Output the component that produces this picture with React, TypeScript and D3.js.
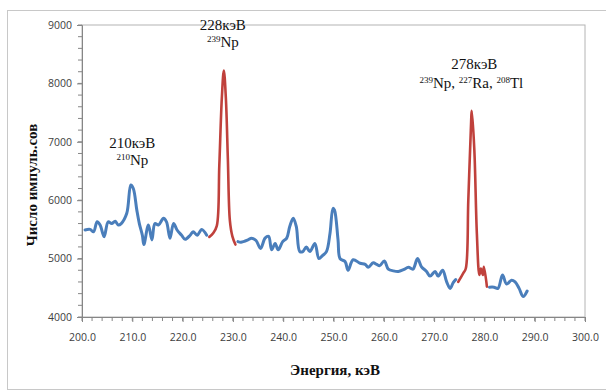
import React, { useRef, useEffect } from "react";
import * as d3 from "d3";

// spectrum segments (energy keV, counts)
const blueA_E = [200.6, 201.6, 202.3, 203.0, 203.6, 204.4, 205.2, 205.9, 206.6, 207.2, 207.8, 208.9, 209.7, 210.2, 210.9, 211.4, 212.0, 212.3, 213.2, 213.9, 214.5, 215.2, 216.2, 216.8, 217.5, 218.2, 218.9, 219.8, 220.5, 221.5, 222.1, 222.9, 223.8, 224.8];
const blueA_C = [5490, 5500, 5460, 5630, 5575, 5375, 5630, 5600, 5640, 5575, 5600, 5775, 6260, 6200, 5830, 5600, 5400, 5240, 5575, 5320, 5600, 5575, 5690, 5630, 5350, 5600, 5490, 5400, 5330, 5400, 5460, 5400, 5500, 5400];

const redA_E = [225.3, 226.1, 226.8, 227.3, 227.8, 228.2, 228.6, 229.0, 229.4, 229.9, 230.5];
const redA_C = [5370, 5440, 5560, 6600, 7750, 8220, 7750, 6700, 5650, 5380, 5240];

const blueB_E = [231.0, 231.6, 233.0, 233.7, 234.6, 235.5, 236.4, 237.1, 237.7, 238.4, 239.0, 239.9, 240.7, 241.3, 242.0, 242.6, 243.3, 243.9, 244.6, 245.3, 246.3, 247.1, 247.8, 248.6, 249.3, 249.9, 250.2, 250.9, 251.3, 252.3, 252.9, 253.9, 255.3, 256.3, 256.9, 257.9, 258.6, 259.2, 260.1, 260.9, 261.9, 262.9, 263.9, 264.9, 265.8, 266.7, 267.5, 268.5, 269.2, 270.2, 270.8, 271.7, 272.5, 273.2, 273.8, 274.3];
const blueB_C = [5290, 5280, 5320, 5350, 5310, 5175, 5350, 5380, 5150, 5260, 5150, 5290, 5350, 5550, 5690, 5550, 5120, 5120, 5200, 5120, 5260, 5000, 5050, 5120, 5430, 5860, 5830, 5320, 5000, 4950, 4800, 4980, 4920, 4900, 4850, 4930, 4900, 4880, 4960, 4820, 4790, 4780, 4810, 4850, 4820, 5000, 4860, 4780, 4700, 4780, 4700, 4800, 4600, 4490, 4590, 4640];

const redB_E = [274.8, 275.8, 276.3, 276.8, 277.3, 277.5, 278.0, 278.5, 279.0, 279.3, 279.7, 279.9, 280.5];
const redB_C = [4600, 4750, 4830, 6000, 7200, 7530, 6860, 5430, 4720, 4830, 4720, 4860, 4520];

const blueC_E = [281.0, 281.9, 282.7, 283.6, 284.4, 285.4, 286.1, 286.9, 287.7, 288.5];
const blueC_C = [4510, 4510, 4490, 4720, 4565, 4630, 4600, 4490, 4350, 4445];

const xTicks = [200, 210, 220, 230, 240, 250, 260, 270, 280, 290, 300];
const yTicks = [4000, 5000, 6000, 7000, 8000, 9000];

const seriesList = [
    { e: blueA_E, c: blueA_C, color: "#4a7ebb", w: 3 },
    { e: redA_E, c: redA_C, color: "#c0413c", w: 2.6 },
    { e: blueB_E, c: blueB_C, color: "#4a7ebb", w: 3 },
    { e: redB_E, c: redB_C, color: "#c0413c", w: 2.6 },
    { e: blueC_E, c: blueC_C, color: "#4a7ebb", w: 3 },
];

const labels = [
    { e: 210, c: 6900, top: "210кэВ", mass: "210", rest: "Np" },
    { e: 228, c: 8920, top: "228кэВ", mass: "239", rest: "Np" },
    { e: 278, c: 8250, top: "278кэВ", mass: "", rest: "" },
];

const W = 606;
const H = 392;
const plot = { left: 82, right: 585, top: 25, bottom: 317 };

const App = () => {
    const ref = useRef(null);

    useEffect(() => {
        const svg = d3.select(ref.current);
        svg.selectAll("*").remove();

        const x = d3.scaleLinear().domain([200, 300]).range([plot.left, plot.right]);
        const y = d3.scaleLinear().domain([4000, 9000]).range([plot.bottom, plot.top]);

        // outer chart frame
        svg.append("rect")
            .attr("x", 7.5).attr("y", 10.5)
            .attr("width", 600).attr("height", 379)
            .attr("fill", "#fff").attr("stroke", "#c8c8c8");

        // plot frame
        svg.append("rect")
            .attr("x", plot.left).attr("y", plot.top)
            .attr("width", plot.right - plot.left).attr("height", plot.bottom - plot.top)
            .attr("fill", "none").attr("stroke", "#b4b4b4");

        const tickFont = "Open Sans, DejaVu Sans, sans-serif";

        // x axis
        const xAxis = svg.append("g")
            .attr("transform", `translate(0, ${plot.bottom})`)
            .call(d3.axisBottom(x).tickValues(xTicks).tickFormat(d3.format(".1f")).tickSize(5).tickPadding(12));
        xAxis.select(".domain").attr("stroke", "#868686");
        xAxis.selectAll(".tick line").attr("stroke", "#868686");
        xAxis.selectAll("text").attr("fill", "#404040").attr("font-size", 10.5).attr("font-family", tickFont);
        svg.append("g")
            .attr("transform", `translate(0, ${plot.bottom})`)
            .selectAll("line")
            .data(d3.range(200, 301, 2))
            .join("line")
            .attr("x1", (d) => x(d)).attr("x2", (d) => x(d))
            .attr("y1", 0).attr("y2", 4)
            .attr("stroke", "#868686");

        // y axis
        const yAxis = svg.append("g")
            .attr("transform", `translate(${plot.left}, 0)`)
            .call(d3.axisLeft(y).tickValues(yTicks).tickFormat(d3.format("d")).tickSize(5).tickPadding(5));
        yAxis.select(".domain").attr("stroke", "#868686");
        yAxis.selectAll(".tick line").attr("stroke", "#868686");
        yAxis.selectAll("text").attr("fill", "#404040").attr("font-size", 10.5).attr("font-family", tickFont);
        svg.append("g")
            .attr("transform", `translate(${plot.left}, 0)`)
            .selectAll("line")
            .data(d3.range(4000, 9001, 200))
            .join("line")
            .attr("x1", -4).attr("x2", 0)
            .attr("y1", (d) => y(d)).attr("y2", (d) => y(d))
            .attr("stroke", "#868686");

        // spectrum lines
        const line = d3.line().x((d) => x(d[0])).y((d) => y(d[1])).curve(d3.curveCatmullRom.alpha(0.5));
        seriesList.forEach((s) => {
            svg.append("path")
                .datum(s.e.map((v, i) => [v, s.c[i]]))
                .attr("d", line)
                .attr("fill", "none")
                .attr("stroke", s.color)
                .attr("stroke-width", s.w)
                .attr("stroke-linejoin", "round")
                .attr("stroke-linecap", "round");
        });

        // peak annotations
        const serif = "Liberation Serif, Times New Roman, serif";
        labels.forEach((l) => {
            svg.append("text")
                .attr("x", x(l.e)).attr("y", y(l.c))
                .attr("text-anchor", "middle")
                .attr("font-family", serif).attr("font-size", 15).attr("fill", "#111")
                .text(l.top);
        });
        const iso = (t, parts) => {
            parts.forEach(([m, s]) => {
                t.append("tspan").attr("font-size", 9).attr("dy", -5).text(m);
                t.append("tspan").attr("font-size", 15).attr("dy", 5).text(s);
            });
        };
        const t1 = svg.append("text").attr("x", x(210)).attr("y", y(6600))
            .attr("text-anchor", "middle").attr("font-family", serif).attr("fill", "#111");
        iso(t1, [["210", "Np"]]);
        const t2 = svg.append("text").attr("x", x(228)).attr("y", y(8620))
            .attr("text-anchor", "middle").attr("font-family", serif).attr("fill", "#111");
        iso(t2, [["239", "Np"]]);
        const t3 = svg.append("text").attr("x", x(277.4)).attr("y", y(7920))
            .attr("text-anchor", "middle").attr("font-family", serif).attr("fill", "#111");
        iso(t3, [["239", "Np, "], ["227", "Ra, "], ["208", "Tl"]]);

        // axis titles
        svg.append("text")
            .attr("x", 335).attr("y", 375)
            .attr("text-anchor", "middle")
            .attr("font-family", serif).attr("font-weight", "bold").attr("font-size", 15).attr("fill", "#111")
            .text("Энергия, кэВ");
        svg.append("text")
            .attr("transform", `translate(37, 185) rotate(-90)`)
            .attr("text-anchor", "middle")
            .attr("font-family", serif).attr("font-weight", "bold").attr("font-size", 15).attr("fill", "#111")
            .text("Число импуль.сов");
    }, []);

    return (
        <svg ref={ref} width={W} height={H} style={{ position: "absolute", left: 0, top: 0, background: "#fff" }} />
    );
};

export default App;
